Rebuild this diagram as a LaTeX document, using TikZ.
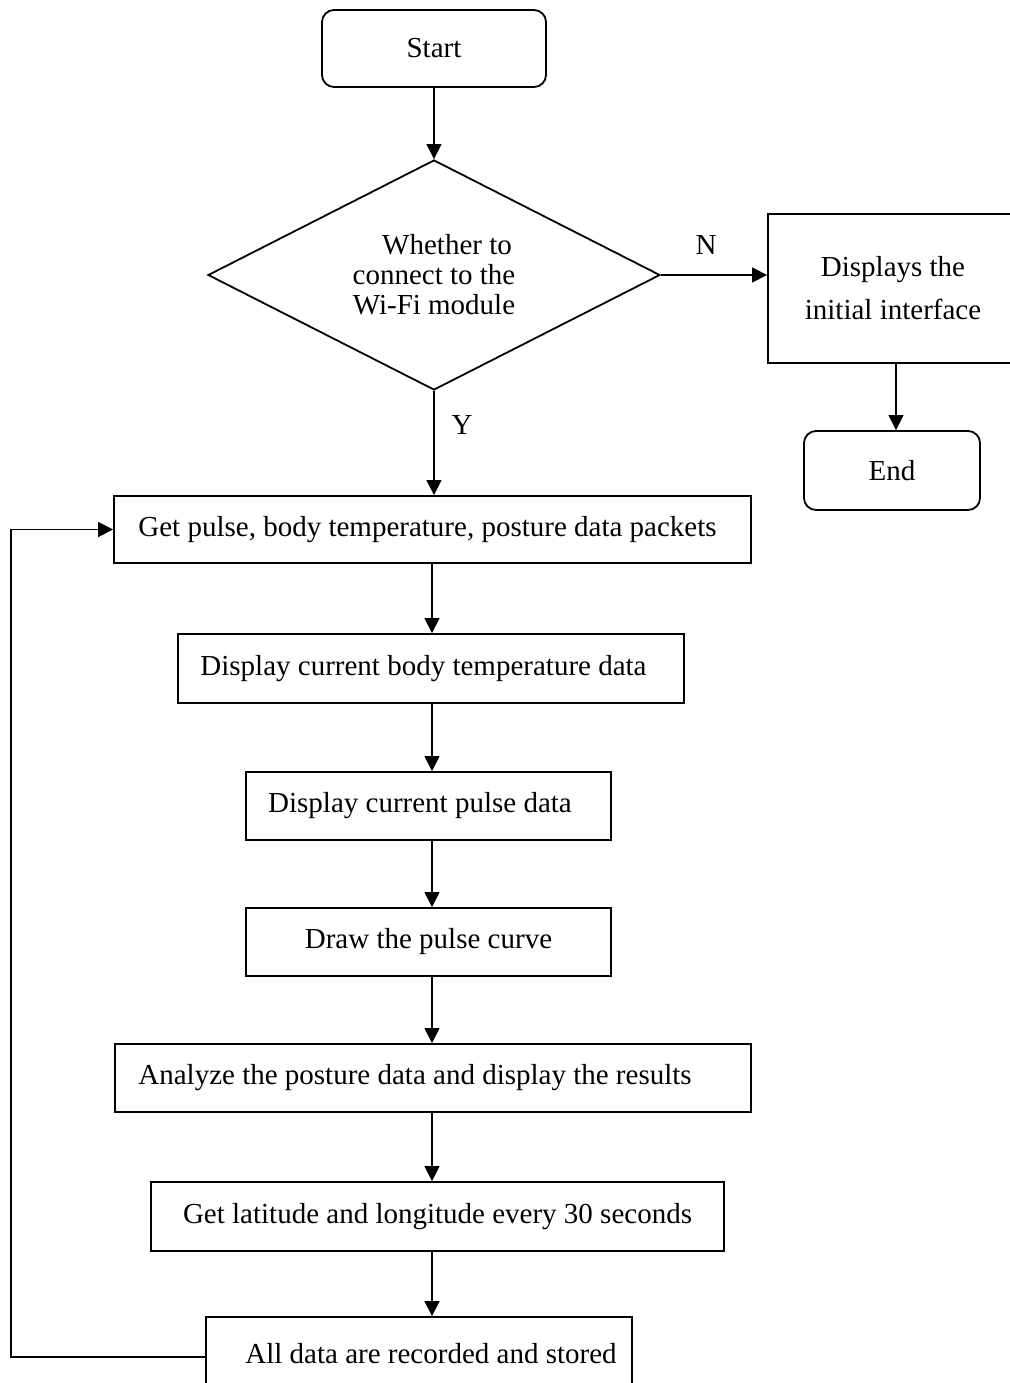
\documentclass[tikz,border=0pt]{standalone}
\usepackage{fontspec}
\setmainfont{Liberation Serif}
\usetikzlibrary{shapes.geometric,arrows.meta}
\begin{document}
\begin{tikzpicture}[x=1pt,y=-1pt,
  every node/.style={font=\fontsize{29}{30}\selectfont},
  box/.style={draw, line width=1.8pt, inner sep=0pt, align=center},
  term/.style={box, rounded corners=12pt},
  arr/.style={line width=1.2pt, -{Triangle[length=15pt,width=15pt]}},
  link/.style={line width=1.2pt}]
\useasboundingbox (0,0) rectangle (1009,1383);

% terminals and decision
\node[term, minimum width=224pt, minimum height=77pt] (start) at (434,48.5) {Start};
\node[draw, diamond, line width=1.8pt, minimum width=452pt, minimum height=230pt,
      aspect=1.965, inner sep=0pt, align=center] (dec) at (434,275)
      {\hspace*{26pt}Whether to\\connect to the\\Wi-Fi module};
\node (nlab) at (706,245) {N};
\node (ylab) at (462,425) {Y};

% "no" branch
\node[box, minimum width=250pt, minimum height=149pt,
      font=\fontsize{29}{43}\selectfont] (disp) at (893,288.5)
      {Displays the\\initial interface};
\node[term, minimum width=176pt, minimum height=79pt] (end) at (892,470.5) {End};

% main loop
\node[box, minimum width=637pt, minimum height=67pt] (b1) at (432.5,529.5)
      {Get pulse, body temperature, posture data packets\hspace*{10pt}};
\node[box, minimum width=506pt, minimum height=69pt] (b2) at (431,668.5)
      {Display current body temperature data\hspace*{15pt}};
\node[box, minimum width=365pt, minimum height=68pt] (b3) at (428.5,806)
      {Display current pulse data\hspace*{17pt}};
\node[box, minimum width=365pt, minimum height=68pt] (b4) at (428.5,942)
      {Draw the pulse curve};
\node[box, minimum width=636pt, minimum height=68pt] (b5) at (433,1078)
      {Analyze the posture data and display the results\hspace*{36pt}};
\node[box, minimum width=573pt, minimum height=69pt] (b6) at (437.5,1216.5)
      {Get latitude and longitude every 30 seconds};
\node[box, minimum width=426pt, minimum height=73pt] (b7) at (419,1353.5)
      {\hspace*{24pt}All data are recorded and stored};

% connectors
\coordinate (col) at (432,0);
\coordinate (ex) at (896,0);
\coordinate (fb) at (11,1357);

\draw[arr] (start) -- (dec);
\draw[arr] (dec.east) -- (dec.east -| disp.west);
\draw[arr] (dec.south) -- (b1.north -| dec.south);
\draw[arr] (disp.south -| ex) -- (end.north -| ex);
\draw[arr] (b1.south -| col) -- (b2.north -| col);
\draw[arr] (b2.south -| col) -- (b3.north -| col);
\draw[arr] (b3.south -| col) -- (b4.north -| col);
\draw[arr] (b4.south -| col) -- (b5.north -| col);
\draw[arr] (b5.south -| col) -- (b6.north -| col);
\draw[arr] (b6.south -| col) -- (b7.north -| col);
\draw[arr] (b7.west |- fb) -- (fb) |- (b1.west);
\end{tikzpicture}
\end{document}
